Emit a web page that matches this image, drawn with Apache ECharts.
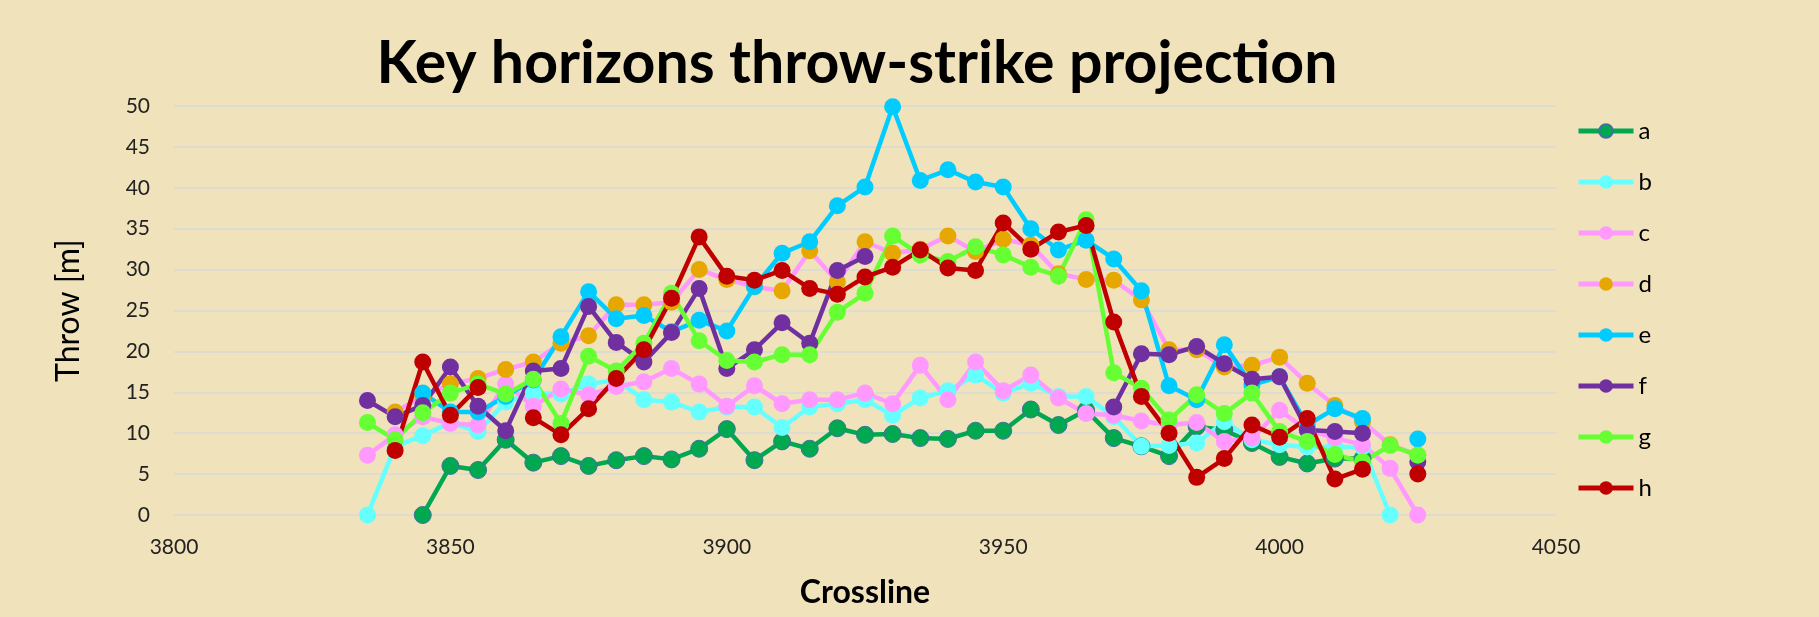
<!DOCTYPE html>
<html>
<head>
<meta charset="utf-8">
<script src="https://cdn.jsdelivr.net/npm/echarts@6/dist/echarts.min.js"></script>
<style>
  html, body { margin: 0; padding: 0; background: #F0E2BB; }
  #chart { width: 1819px; height: 617px; }
</style>
</head>
<body>
<div id="chart"></div>
<script>
// crosslines 3835..4025, step 5
const crosslines = [3835, 3840, 3845, 3850, 3855, 3860, 3865, 3870, 3875, 3880,
    3885, 3890, 3895, 3900, 3905, 3910, 3915, 3920, 3925, 3930,
    3935, 3940, 3945, 3950, 3955, 3960, 3965, 3970, 3975, 3980,
    3985, 3990, 3995, 4000, 4005, 4010, 4015, 4020, 4025];

const a = [null, null, 0, 6.0, 5.5, 9.2, 6.4, 7.2, 6.0, 6.7,
    7.2, 6.8, 8.1, 10.5, 6.7, 9.0, 8.1, 10.6, 9.8, 9.9,
    9.4, 9.3, 10.3, 10.3, 12.9, 11.0, 12.8, 9.4, 8.4, 7.2,
    10.8, 10.4, 8.8, 7.1, 6.3, 6.9, 6.9, null, null];
const b = [0, 8.4, 9.7, 11.3, 10.2, 13.8, 14.9, 14.8, 16.0, 16.5,
    14.1, 13.8, 12.6, 13.2, 13.2, 10.7, 13.2, 13.6, 14.1, 12.2,
    14.3, 15.2, 17.1, 14.9, 16.1, 14.5, 14.5, 12.0, 8.4, 8.5,
    8.8, 11.4, 9.2, 8.6, 8.3, 8.3, 8.3, 0, null];
const c = [7.3, 9.8, 12.0, 11.2, 11.0, 16.0, 13.3, 15.4, 14.7, 15.7,
    16.3, 17.9, 16.0, 13.3, 15.8, 13.6, 14.1, 14.1, 14.9, 13.6,
    18.3, 14.1, 18.7, 15.2, 17.1, 14.3, 12.4, 12.2, 11.5, 11.0,
    11.3, 9.0, 9.4, 12.8, 10.4, 9.4, 8.6, 5.7, 0];
const d = [null, 12.6, 14.5, 16.0, 16.7, 17.8, 18.7, 21.0, 21.9, 25.7,
    25.7, 26.0, 30.0, 28.8, 27.9, 27.4, 32.3, 28.5, 33.4, 32.0,
    32.5, 34.1, 32.2, 33.7, 33.0, 29.5, 28.8, 28.7, 26.3, 20.2,
    20.2, 18.1, 18.3, 19.3, 16.1, 13.4, 11.4, 8.6, 7.3];
const e = [null, null, 14.9, 12.6, 12.6, 14.5, 16.5, 21.8, 27.3, 24.0,
    24.4, 22.4, 23.8, 22.5, 27.9, 32.0, 33.4, 37.8, 40.1, 49.9,
    40.9, 42.2, 40.7, 40.1, 35.0, 32.4, 33.6, 31.3, 27.4, 15.8,
    14.1, 20.8, 15.9, 16.9, 11.0, 13.0, 11.8, null, 9.3];
const f = [14.0, 12.0, 13.4, 18.1, 13.3, 10.3, 17.6, 17.9, 25.5, 21.1,
    18.7, 22.3, 27.7, 17.9, 20.2, 23.5, 21.0, 29.9, 31.6, null,
    null, null, null, null, null, null, null, 13.2, 19.7, 19.6,
    20.6, 18.5, 16.6, 16.9, 10.4, 10.2, 10.0, null, 6.5];
const g = [11.3, 9.2, 12.5, 14.9, 16.0, 14.8, 16.6, 11.2, 19.4, 17.6,
    21.0, 27.1, 21.3, 18.9, 18.7, 19.6, 19.6, 24.8, 27.1, 34.1,
    31.8, 31.0, 32.8, 31.8, 30.3, 29.2, 36.1, 17.4, 15.5, 11.6,
    14.7, 12.4, 14.9, 10.2, 9.0, 7.4, 6.5, 8.5, 7.3];
const h = [null, 7.9, 18.7, 12.2, 15.6, null, 11.9, 9.8, 13.0, 16.7,
    20.2, 26.5, 34.0, 29.2, 28.7, 29.9, 27.7, 27.0, 29.1, 30.3,
    32.4, 30.2, 29.9, 35.7, 32.5, 34.6, 35.4, 23.6, 14.5, 10.0,
    4.6, 6.9, 11.0, 9.5, 11.8, 4.4, 5.6, null, 5.0];

const xTicks = [3800, 3850, 3900, 3950, 4000, 4050];
const yTicks = [0, 5, 10, 15, 20, 25, 30, 35, 40, 45, 50];

const FONT = 'Lato, "Open Sans", sans-serif';

function pairs(vals) {
    return crosslines.map((x, i) => [x, vals[i]]);
}

function mk(name, vals, line, marker, border) {
    return {
        name: name,
        type: 'line',
        data: pairs(vals),
        connectNulls: false,
        symbol: 'circle',
        symbolSize: 17,
        showAllSymbol: true,
        lineStyle: { color: line, width: 4.5 },
        itemStyle: {
            color: marker,
            borderColor: border || marker,
            borderWidth: border ? 1 : 0,
        },
        emphasis: { disabled: true },
        z: 2,
    };
}

let chart = echarts.init(document.getElementById('chart'), null, { renderer: 'canvas' });
let option = {
    backgroundColor: '#F0E2BB',
    animation: false,
    textStyle: { fontFamily: FONT },
    title: {
        text: 'Key horizons throw-strike projection',
        left: 852,
        top: 29,
        textAlign: 'center',
        textStyle: { fontFamily: FONT, fontWeight: 'bold', fontSize: 59, color: '#000' },
    },
    grid: { left: 174, right: 263, top: 106, bottom: 102 },
    legend: {
        orient: 'vertical',
        left: 1571,
        top: 114,
        itemWidth: 55,
        itemHeight: 17,
        itemGap: 27,
        lineStyle: { width: 5 },
        textStyle: { fontFamily: FONT, fontSize: 24, color: '#000' },
        data: ['a', 'b', 'c', 'd', 'e', 'f', 'g', 'h'],
    },
    xAxis: {
        type: 'value',
        min: xTicks[0],
        max: xTicks[xTicks.length - 1],
        interval: 50,
        name: 'Crossline',
        nameLocation: 'middle',
        nameGap: 62,
        nameTextStyle: { fontFamily: FONT, fontWeight: 'bold', fontSize: 32, color: '#000' },
        axisLine: { show: false },
        axisTick: { show: false },
        splitLine: { show: false },
        axisLabel: {
            fontFamily: FONT, fontSize: 21, color: '#222', margin: 22,
            formatter: (v) => String(v),
        },
    },
    yAxis: {
        type: 'value',
        min: yTicks[0],
        max: yTicks[yTicks.length - 1],
        interval: 5,
        name: 'Throw [m]',
        nameLocation: 'middle',
        nameGap: 89,
        nameTextStyle: { fontFamily: FONT, fontSize: 32, color: '#000' },
        axisLine: { show: false },
        axisTick: { show: false },
        splitLine: { lineStyle: { color: '#D9D9D9', width: 1.5 } },
        axisLabel: { fontFamily: FONT, fontSize: 21, color: '#222', margin: 24 },
    },
    series: [
        mk('a', a, '#00A84F', '#00A84F', '#41719C'),
        mk('b', b, '#66FFFF', '#66FFFF'),
        mk('c', c, '#FF99FF', '#FF99FF'),
        mk('d', d, '#FF99FF', '#E6A800'),
        mk('e', e, '#00CCFF', '#00CCFF'),
        mk('f', f, '#7030A0', '#7030A0'),
        mk('g', g, '#66FF33', '#66FF33'),
        mk('h', h, '#C00000', '#C00000'),
    ],
};
chart.setOption(option);
</script>
</body>
</html>
